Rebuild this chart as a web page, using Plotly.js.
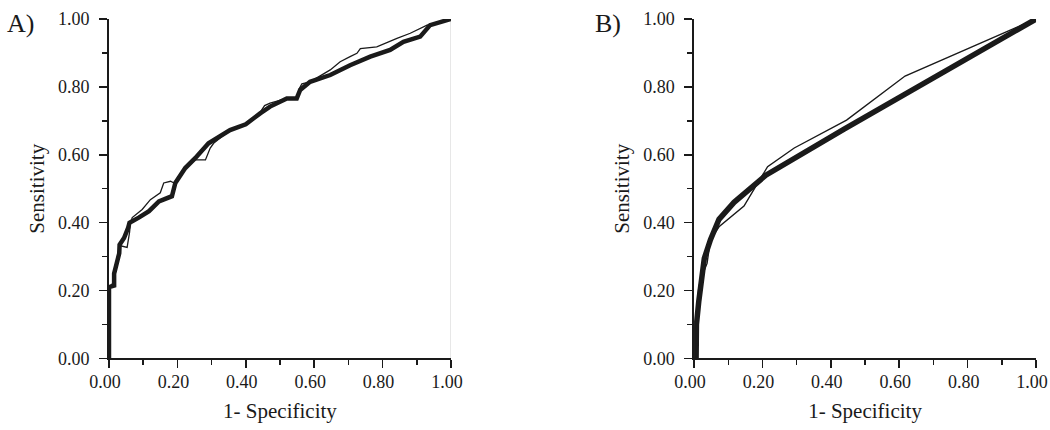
<!DOCTYPE html>
<html>
<head>
<meta charset="utf-8">
<script src="https://cdn.plot.ly/plotly-3.0.1.min.js"></script>
<style>html,body{margin:0;padding:0;background:#fff;}#chart{width:1050px;height:430px;}</style>
</head>
<body>
<div id="chart"></div>
<script>
// Panel A: empirical ROC curves
const aThickX = [0,0,0.015,0.015,0.02,0.03,0.031,0.044,0.056,0.06,0.087,0.117,0.146,0.184,0.194,0.223,0.252,0.291,0.354,0.40,0.442,0.471,0.52,0.549,0.559,0.588,0.647,0.705,0.764,0.822,0.861,0.91,0.939,1];
const aThickY = [0,0.21,0.215,0.25,0.27,0.31,0.335,0.355,0.385,0.40,0.415,0.434,0.463,0.478,0.517,0.561,0.59,0.634,0.673,0.69,0.722,0.742,0.766,0.766,0.791,0.815,0.835,0.864,0.889,0.909,0.933,0.948,0.982,1];
const aThinX = [0,0,0.01,0.02,0.03,0.034,0.053,0.06,0.063,0.068,0.097,0.121,0.15,0.16,0.18,0.19,0.223,0.252,0.282,0.296,0.306,0.354,0.40,0.44,0.455,0.471,0.52,0.549,0.557,0.564,0.588,0.647,0.676,0.705,0.725,0.735,0.783,0.842,0.881,0.93,1];
const aThinY = [0,0.21,0.22,0.27,0.33,0.332,0.327,0.371,0.40,0.415,0.439,0.468,0.488,0.517,0.522,0.517,0.561,0.585,0.585,0.62,0.634,0.673,0.69,0.722,0.745,0.752,0.766,0.766,0.796,0.809,0.815,0.85,0.874,0.889,0.899,0.913,0.918,0.943,0.958,0.982,1];
// Panel B: smoothed ROC curves
const bThickX = [0.006,0.007,0.014,0.021,0.030,0.048,0.073,0.117,0.21,0.44,0.617,1];
const bThickY = [0,0.10,0.17,0.24,0.295,0.35,0.41,0.46,0.54,0.676,0.779,1];
const bThinX = [0.003,0.003,0.014,0.024,0.030,0.038,0.048,0.068,0.073,0.146,0.215,0.293,0.446,0.617,1];
const bThinY = [0,0.09,0.21,0.25,0.26,0.28,0.35,0.383,0.388,0.449,0.565,0.62,0.702,0.832,1];

const tickVals = [0,0.2,0.4,0.6,0.8,1.0];
const tickText = ["0.00","0.20","0.40","0.60","0.80","1.00"];
const panelLabels = ["A)","B)"];
const xTitle = "1- Specificity";
const yTitle = "Sensitivity";

const FONT = "'Liberation Serif', 'Times New Roman', Times, serif";
const ink = "#1a1a1a";

function trace(x, y, w, ax) {
  return {x: x, y: y, type: "scatter", mode: "lines", xaxis: ax[0], yaxis: ax[1],
          line: {color: ink, width: w}, hoverinfo: "skip", showlegend: false};
}
const data = [
  trace(aThinX, aThinY, 1.3, ["x","y"]),
  trace(aThickX, aThickY, 4.5, ["x","y"]),
  trace(bThinX, bThinY, 1.4, ["x2","y2"]),
  trace(bThickX, bThickY, 5.5, ["x2","y2"])
];

function xax(domain, anchor) {
  return {domain: domain, anchor: anchor, range: [0,1], tickvals: tickVals, ticktext: tickText,
          ticks: "outside", ticklen: 8, tickwidth: 1.5, tickcolor: ink, ticklabeloverflow: "allow",
          ticklabelshift: -4, ticklabelstandoff: -2,
          minor: {tickvals: [0.1,0.3,0.5,0.7,0.9], ticks: "outside", ticklen: 5, tickwidth: 1.5, tickcolor: ink},
          showline: true, linecolor: ink, linewidth: 1.8, showgrid: false, zeroline: false,
          tickfont: {family: FONT, size: 18, color: ink},
          title: {text: xTitle, font: {family: FONT, size: 21, color: ink}, standoff: 12}, fixedrange: true};
}
function yax(domain, anchor) {
  return {domain: domain, anchor: anchor, range: [0,1], tickvals: tickVals, ticktext: tickText,
          ticks: "outside", ticklen: 8, tickwidth: 1.5, tickcolor: ink, ticklabeloverflow: "allow",
          minor: {tickvals: [0.1,0.3,0.5,0.7,0.9], ticks: "outside", ticklen: 5, tickwidth: 1.5, tickcolor: ink},
          showline: true, linecolor: ink, linewidth: 1.8, showgrid: false, zeroline: false,
          tickfont: {family: FONT, size: 18, color: ink}, ticklabelstandoff: 6,
          title: {text: yTitle, font: {family: FONT, size: 21, color: ink}, standoff: 8}, fixedrange: true};
}
const yDom = [0.1663, 0.9558];
const layout = {
  width: 1050, height: 430,
  margin: {l: 0, r: 0, t: 0, b: 0},
  paper_bgcolor: "#fff", plot_bgcolor: "#fff",
  font: {family: FONT, color: ink},
  xaxis: xax([0.1038, 0.4295], "y"),
  yaxis: yax(yDom, "x"),
  xaxis2: xax([0.661, 0.9867], "y2"),
  yaxis2: yax(yDom, "x2"),
  shapes: [{type: "line", xref: "x", yref: "y", x0: 1, x1: 1, y0: 0, y1: 1,
            line: {color: "#d8d8d8", width: 1.2}, layer: "below"}],
  annotations: [
    {text: panelLabels[0], xref: "paper", yref: "paper", x: 0.005, y: 0.945, xanchor: "left", yanchor: "middle",
     showarrow: false, font: {family: FONT, size: 26, color: ink}},
    {text: panelLabels[1], xref: "paper", yref: "paper", x: 0.565, y: 0.945, xanchor: "left", yanchor: "middle",
     showarrow: false, font: {family: FONT, size: 26, color: ink}}
  ]
};
Plotly.newPlot("chart", data, layout, {staticPlot: true, displayModeBar: false});
</script>
</body>
</html>
